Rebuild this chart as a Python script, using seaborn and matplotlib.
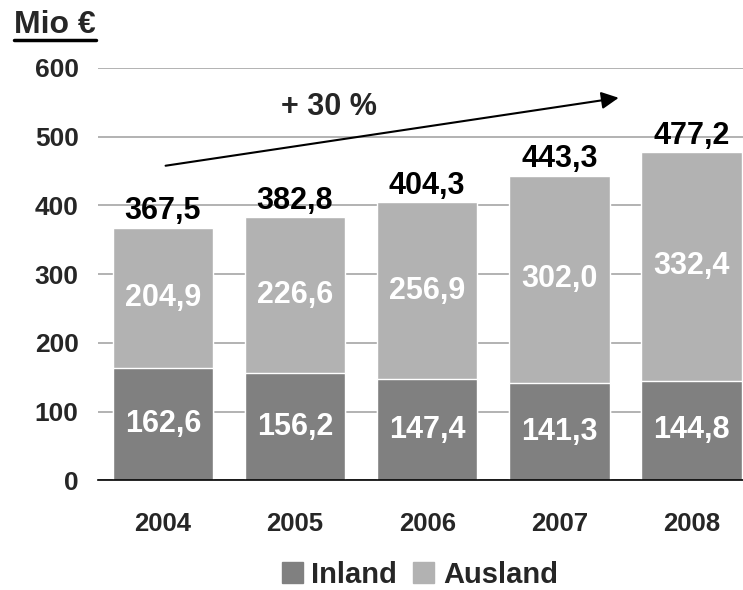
import pandas as pd
import seaborn as sns
import matplotlib.pyplot as plt
from matplotlib.lines import Line2D
from matplotlib.patches import Patch

years = ['2004', '2005', '2006', '2007', '2008']
inland = [162.6, 156.2, 147.4, 141.3, 144.8]
ausland = [204.9, 226.6, 256.9, 302.0, 332.4]
totals = [367.5, 382.8, 404.3, 443.3, 477.2]

df = pd.DataFrame({'Jahr': years, 'Inland': inland, 'Ausland': ausland, 'Gesamt': totals})

def de(v):
    return f'{v:.1f}'.replace('.', ',')

sns.set_theme(style="white")
plt.rcParams['font.family'] = ['Liberation Sans', 'DejaVu Sans']
plt.rcParams['font.weight'] = 'bold'

c_in = '#808080'
c_aus = '#b2b2b2'

fig = plt.figure(figsize=(7.43, 5.9), dpi=100)
ax = fig.add_axes([0.132, 0.186, 0.868, 0.699])

# stacked: full height in Ausland colour, Inland drawn over the bottom part
sns.barplot(data=df, x='Jahr', y='Gesamt', color=c_aus, width=0.76, saturation=1, ax=ax, zorder=2)
sns.barplot(data=df, x='Jahr', y='Inland', color=c_in, width=0.76, saturation=1, ax=ax, zorder=3)

ax.set_ylim(0, 600)
ax.set_xlim(-0.49, 4.39)
ax.set_yticks(range(0, 601, 100))
ax.yaxis.grid(True, color='#a6a6a6', linewidth=1.2, zorder=0)
ax.set_axisbelow(True)
for s in ['top', 'right', 'left']:
    ax.spines[s].set_visible(False)
ax.spines['bottom'].set_color('black')
ax.spines['bottom'].set_linewidth(1.2)
ax.spines['bottom'].set_zorder(5)
ax.set_xlabel('')
ax.set_ylabel('')
ax.tick_params(axis='y', labelsize=19, pad=14, length=0)
ax.tick_params(axis='x', labelsize=18.5, pad=23, length=0)
for lab in ax.get_xticklabels() + ax.get_yticklabels():
    lab.set_fontweight('bold')

for i in range(len(years)):
    ax.text(i, inland[i] / 2, de(inland[i]), ha='center', va='center',
            color='white', fontsize=22, fontweight='bold', zorder=6)
    ax.text(i, inland[i] + ausland[i] / 2, de(ausland[i]), ha='center', va='center',
            color='white', fontsize=22, fontweight='bold', zorder=6)
    ax.annotate(de(totals[i]), (i, totals[i]), xytext=(0, 1), textcoords='offset points',
                ha='center', va='bottom', fontsize=22, fontweight='bold', color='black')

ax.annotate('', xy=(3.47, 557), xytext=(0.0, 457),
            arrowprops=dict(arrowstyle='-|>', color='black', lw=1.5, mutation_scale=26))
ax.text(1.26, 543, '+ 30 %', ha='center', va='center', fontsize=22, fontweight='bold')

fig.text(0.019, 0.958, 'Mio €', fontsize=23, fontweight='bold', va='center', ha='left')
fig.add_artist(Line2D([0.019, 0.129], [0.932, 0.932], color='black', lw=2.5))

handles = [Patch(color=c_in, label='Inland'), Patch(color=c_aus, label='Ausland')]
fig.legend(handles=handles, loc='center', bbox_to_anchor=(0.565, 0.026), ncol=2,
           frameon=False, prop={'size': 21, 'weight': 'bold'},
           handlelength=0.72, handleheight=0.72, handletextpad=0.3, columnspacing=0.55,
           borderpad=0.1)

plt.savefig('out.png', dpi=100)
